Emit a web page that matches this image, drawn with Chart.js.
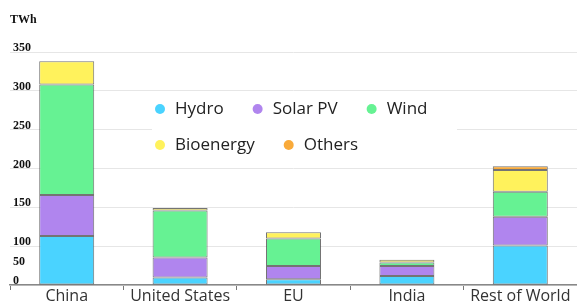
<!DOCTYPE html>
<html>
<head>
<meta charset="utf-8">
<script src="https://cdn.jsdelivr.net/npm/chart.js@4.4.1/dist/chart.umd.min.js"></script>
<style>
  html, body { margin: 0; padding: 0; background: #fff; }
  #wrap { position: relative; width: 577px; height: 302px; }
  #unit { position: absolute; left: 10px; top: 12px; font: bold 12px "Liberation Serif", serif; color: #111; }
</style>
</head>
<body>
<div id="wrap">
  <canvas id="chart" width="577" height="302"></canvas>
  <div id="unit">TWh</div>
</div>
<script>
const categories = ['China', 'United States', 'EU', 'India', 'Rest of World'];
const hydro = [113, 19, 15, 23, 101];
const solarPV = [53, 52, 34, 26, 37];
const wind = [142, 75, 61, 9, 32];
const bioenergy = [30, 3, 8, 7, 28];
const others = [0, 0, 0, 0, 5];
const yTicks = [0, 50, 100, 150, 200, 250, 300, 350];

// the axis in the picture squeezes 0-100 into one grid step, 100-350 uses the rest
class SplitScale extends Chart.LinearScale {
  static id = 'split';
  static defaults = Chart.LinearScale.defaults;
  getPixelForValue(v) {
    if (v === null || isNaN(v)) return NaN;
    const f = v <= 100 ? v / 600 : (v - 50) / 300;
    return this.getPixelForDecimal(f);
  }
  getValueForPixel(p) {
    const f = this.getDecimalForPixel(p);
    return f <= 1 / 6 ? f * 600 : f * 300 + 50;
  }
}
Chart.register(SplitScale);

const legendRows = [[0, 1, 2], [3, 4]];
const inlineLegend = {
  id: 'inlineLegend',
  beforeDatasetsDraw(chart) {
    const { ctx, chartArea } = chart;
    ctx.save();
    ctx.fillStyle = '#fff';
    ctx.fillRect(chartArea.left + 142, chartArea.top + 43, 305, 65);
    ctx.restore();
  },
  afterDatasetsDraw(chart) {
    const { ctx, chartArea } = chart;
    ctx.save();
    ctx.font = '17px "Open Sans"';
    ctx.textBaseline = 'middle';
    legendRows.forEach((row, r) => {
      let x = chartArea.left + 145;
      const y = chartArea.top + 57 + r * 36;
      row.forEach(i => {
        const ds = chart.data.datasets[i];
        ctx.fillStyle = ds.backgroundColor;
        ctx.beginPath();
        ctx.arc(x + 5, y, 5, 0, Math.PI * 2);
        ctx.fill();
        ctx.fillStyle = '#222';
        ctx.fillText(ds.label, x + 20, y);
        x += 20 + ctx.measureText(ds.label).width + 29;
      });
    });
    ctx.restore();
  }
};

const series = [
  { label: 'Hydro', data: hydro, backgroundColor: '#4AD3FF' },
  { label: 'Solar PV', data: solarPV, backgroundColor: '#B085EE' },
  { label: 'Wind', data: wind, backgroundColor: '#66F293' },
  { label: 'Bioenergy', data: bioenergy, backgroundColor: '#FFF25C' },
  { label: 'Others', data: others, backgroundColor: '#F9AA3A' }
];

new Chart(document.getElementById('chart'), {
  type: 'bar',
  data: {
    labels: categories,
    datasets: series.map(ds => ({
      ...ds,
      borderColor: 'rgba(70,70,70,0.75)',
      borderWidth: 1,
      borderSkipped: false,
      barPercentage: 0.485,
      categoryPercentage: 1
    }))
  },
  options: {
    responsive: false,
    animation: false,
    layout: { padding: { left: 4, right: 0, top: 52, bottom: 0 } },
    plugins: {
      legend: { display: false },
      tooltip: { enabled: false }
    },
    scales: {
      x: {
        stacked: true,
        grid: { offset: true, drawOnChartArea: false, drawTicks: true, tickLength: 5, color: '#777' },
        border: { color: '#888', width: 1.5 },
        ticks: {
          color: '#333',
          padding: -2,
          maxRotation: 0,
          autoSkip: false,
          font: { family: 'Open Sans', size: 16, lineHeight: 1 }
        }
      },
      y: {
        type: 'split',
        stacked: true,
        min: 0,
        max: 350,
        afterBuildTicks: scale => { scale.ticks = yTicks.map(v => ({ value: v })); },
        grid: {
          drawTicks: false,
          color: c => (c.tick && c.tick.value === 50) ? 'rgba(0,0,0,0)' : '#e6e6e6'
        },
        border: { display: false },
        ticks: {
          mirror: true,
          padding: 3,
          labelOffset: -4,
          color: '#111',
          font: { family: 'Liberation Serif', weight: 'bold', size: 12 }
        }
      }
    }
  },
  plugins: [inlineLegend]
});
</script>
</body>
</html>
